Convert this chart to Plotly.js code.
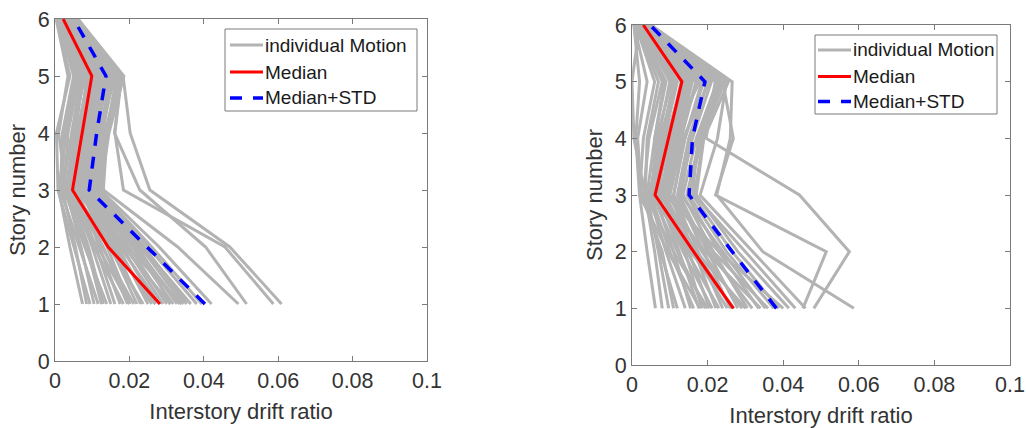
<!DOCTYPE html>
<html>
<head>
<meta charset="utf-8">
<script src="https://cdn.plot.ly/plotly-3.0.1.min.js"></script>
<style>html,body{margin:0;padding:0;background:#fff;}#chart{width:1026px;height:428px;}</style>
</head>
<body>
<div id="chart"></div>
<script>
// Story levels
const stories = [1, 2, 3, 4, 5, 6];

// Left panel: individual motions (drift ratio at stories 1..6)
const leftMotions = [
  [0.0074, 0.0040, 0.0010, 0.0030, 0.0060, 0.0010],
  [0.0085, 0.0055, 0.0020, 0.0045, 0.0070, 0.0015],
  [0.0094, 0.0050, 0.0008, 0.0004, 0.0040, 0.0005],
  [0.0105, 0.0070, 0.0030, 0.0050, 0.0080, 0.0020],
  [0.0116, 0.0065, 0.0015, 0.0020, 0.0050, 0.0008],
  [0.0130, 0.0090, 0.0040, 0.0060, 0.0090, 0.0025],
  [0.0139, 0.0080, 0.0025, 0.0035, 0.0065, 0.0012],
  [0.0150, 0.0100, 0.0045, 0.0075, 0.0100, 0.0030],
  [0.0161, 0.0110, 0.0050, 0.0055, 0.0075, 0.0018],
  [0.0175, 0.0120, 0.0060, 0.0085, 0.0110, 0.0035],
  [0.0184, 0.0105, 0.0035, 0.0065, 0.0095, 0.0022],
  [0.0195, 0.0130, 0.0055, 0.0070, 0.0085, 0.0020],
  [0.0202, 0.0140, 0.0070, 0.0095, 0.0120, 0.0040],
  [0.0212, 0.0125, 0.0040, 0.0050, 0.0070, 0.0015],
  [0.0220, 0.0150, 0.0065, 0.0080, 0.0105, 0.0028],
  [0.0230, 0.0160, 0.0075, 0.0100, 0.0125, 0.0045],
  [0.0237, 0.0145, 0.0050, 0.0060, 0.0090, 0.0025],
  [0.0250, 0.0170, 0.0080, 0.0105, 0.0130, 0.0050],
  [0.0260, 0.0165, 0.0060, 0.0075, 0.0100, 0.0030],
  [0.0270, 0.0180, 0.0085, 0.0110, 0.0140, 0.0055],
  [0.0282, 0.0175, 0.0070, 0.0090, 0.0115, 0.0038],
  [0.0290, 0.0190, 0.0090, 0.0120, 0.0150, 0.0058],
  [0.0300, 0.0200, 0.0095, 0.0115, 0.0135, 0.0045],
  [0.0310, 0.0185, 0.0075, 0.0100, 0.0120, 0.0040],
  [0.0318, 0.0210, 0.0100, 0.0125, 0.0160, 0.0060],
  [0.0328, 0.0220, 0.0105, 0.0130, 0.0150, 0.0050],
  [0.0336, 0.0215, 0.0090, 0.0110, 0.0145, 0.0048],
  [0.0345, 0.0230, 0.0110, 0.0135, 0.0170, 0.0062],
  [0.0354, 0.0240, 0.0115, 0.0140, 0.0165, 0.0055],
  [0.0365, 0.0235, 0.0105, 0.0120, 0.0155, 0.0050],
  [0.0381, 0.0250, 0.0120, 0.0140, 0.0175, 0.0060],
  [0.0395, 0.0260, 0.0118, 0.0138, 0.0180, 0.0058],
  [0.0421, 0.0280, 0.0122, 0.0145, 0.0185, 0.0062],
  [0.0493, 0.0330, 0.0130, 0.0140, 0.0170, 0.0055],
  [0.0515, 0.0405, 0.0228, 0.0160, 0.0178, 0.0050],
  [0.0587, 0.0457, 0.0184, 0.0161, 0.0179, 0.0045],
  [0.0609, 0.0470, 0.0255, 0.0202, 0.0183, 0.0060],
  [0.0125, 0.0085, 0.0030, 0.0010, 0.0035, 0.0003],
  [0.0200, 0.0115, 0.0020, 0.0025, 0.0055, 0.0010],
  [0.0270, 0.0155, 0.0045, 0.0045, 0.0080, 0.0018],
  [0.0340, 0.0195, 0.0065, 0.0085, 0.0110, 0.0035],
  [0.0310, 0.0225, 0.0115, 0.0125, 0.0155, 0.0052]
];
const leftMedian = [0.0282, 0.0143, 0.0047, 0.0072, 0.0099, 0.0022];
const leftMedianStd = [0.0403, 0.0246, 0.0092, 0.0112, 0.0137, 0.0050];

// Right panel: individual motions
const rightMotions = [
  [0.0062, 0.0040, 0.0020, 0.0030, 0.0060, 0.0010],
  [0.0080, 0.0060, 0.0035, 0.0005, 0.0000, 0.0020],
  [0.0097, 0.0070, 0.0040, 0.0060, 0.0090, 0.0015],
  [0.0120, 0.0075, 0.0030, 0.0045, 0.0080, 0.0008],
  [0.0141, 0.0090, 0.0045, 0.0080, 0.0110, 0.0025],
  [0.0155, 0.0110, 0.0060, 0.0070, 0.0100, 0.0020],
  [0.0163, 0.0100, 0.0050, 0.0095, 0.0130, 0.0030],
  [0.0177, 0.0125, 0.0070, 0.0060, 0.0085, 0.0012],
  [0.0185, 0.0140, 0.0080, 0.0110, 0.0150, 0.0035],
  [0.0194, 0.0120, 0.0055, 0.0085, 0.0120, 0.0028],
  [0.0205, 0.0150, 0.0090, 0.0120, 0.0160, 0.0040],
  [0.0212, 0.0135, 0.0065, 0.0100, 0.0140, 0.0032],
  [0.0222, 0.0165, 0.0100, 0.0130, 0.0170, 0.0045],
  [0.0230, 0.0145, 0.0060, 0.0075, 0.0115, 0.0022],
  [0.0240, 0.0175, 0.0110, 0.0140, 0.0185, 0.0048],
  [0.0252, 0.0160, 0.0075, 0.0105, 0.0145, 0.0030],
  [0.0260, 0.0190, 0.0120, 0.0150, 0.0200, 0.0050],
  [0.0265, 0.0170, 0.0085, 0.0115, 0.0155, 0.0038],
  [0.0280, 0.0200, 0.0125, 0.0160, 0.0210, 0.0045],
  [0.0291, 0.0185, 0.0095, 0.0125, 0.0170, 0.0040],
  [0.0305, 0.0215, 0.0135, 0.0170, 0.0225, 0.0050],
  [0.0318, 0.0205, 0.0110, 0.0140, 0.0190, 0.0042],
  [0.0335, 0.0230, 0.0145, 0.0180, 0.0235, 0.0048],
  [0.0353, 0.0240, 0.0130, 0.0155, 0.0200, 0.0045],
  [0.0375, 0.0250, 0.0150, 0.0185, 0.0245, 0.0050],
  [0.0388, 0.0265, 0.0160, 0.0175, 0.0230, 0.0040],
  [0.0415, 0.0280, 0.0170, 0.0190, 0.0255, 0.0050],
  [0.0432, 0.0300, 0.0165, 0.0189, 0.0240, 0.0045],
  [0.0459, 0.0320, 0.0180, 0.0226, 0.0250, 0.0048],
  [0.0481, 0.0575, 0.0443, 0.0196, 0.0220, 0.0045],
  [0.0452, 0.0514, 0.0221, 0.0268, 0.0240, 0.0050],
  [0.0587, 0.0346, 0.0224, 0.0260, 0.0265, 0.0050],
  [0.0110, 0.0080, 0.0025, 0.0015, 0.0040, 0.0005],
  [0.0200, 0.0110, 0.0035, 0.0040, 0.0070, 0.0010],
  [0.0270, 0.0155, 0.0050, 0.0065, 0.0105, 0.0020],
  [0.0340, 0.0195, 0.0070, 0.0090, 0.0135, 0.0030],
  [0.0400, 0.0230, 0.0090, 0.0120, 0.0175, 0.0040],
  [0.0180, 0.0095, 0.0020, 0.0010, 0.0020, 0.0005],
  [0.0300, 0.0170, 0.0060, 0.0100, 0.0180, 0.0035],
  [0.0360, 0.0215, 0.0100, 0.0135, 0.0205, 0.0045]
];
const rightMedian = [0.0268, 0.0163, 0.0061, 0.0097, 0.0132, 0.0030];
const rightMedianStd = [0.0382, 0.0265, 0.0151, 0.0160, 0.0193, 0.0048];

const legendNames = ['individual Motion', 'Median', 'Median+STD'];
const xTicks = [0, 0.02, 0.04, 0.06, 0.08, 0.1];
const yTicks = [0, 1, 2, 3, 4, 5, 6];

const GRAY = '#b3b3b3', RED = '#ff0000', BLUE = '#0000ff';
const COLORS = [GRAY, RED, BLUE];
const DASHES = ['solid', 'solid', '12px,11px'];
const FONT = 'Liberation Sans, Arial, sans-serif';

function panel(motions, med, medStd, xa, ya) {
  const tr = [];
  motions.forEach((m) => {
    tr.push({
      x: m, y: stories, xaxis: xa, yaxis: ya, type: 'scatter', mode: 'lines',
      line: {color: GRAY, width: 3}, name: legendNames[0], showlegend: false, hoverinfo: 'skip'
    });
  });
  tr.push({x: med, y: stories, xaxis: xa, yaxis: ya, type: 'scatter', mode: 'lines',
    line: {color: RED, width: 3}, name: legendNames[1], showlegend: false});
  tr.push({x: medStd, y: stories, xaxis: xa, yaxis: ya, type: 'scatter', mode: 'lines',
    line: {color: BLUE, width: 3.5, dash: DASHES[2]}, name: legendNames[2], showlegend: false});
  return tr;
}

const data = [].concat(
  panel(leftMotions, leftMedian, leftMedianStd, 'x', 'y'),
  panel(rightMotions, rightMedian, rightMedianStd, 'x2', 'y2')
);

const W = 1026, H = 428;
const px = v => v / W, py = v => 1 - v / H;

function xaxisCfg(l, r, anchor) {
  return {
    domain: [l / W, r / W], anchor: anchor, range: [0, 0.1], tickvals: xTicks,
    ticktext: xTicks.map(String),
    showline: true, linecolor: '#7a7a7a', linewidth: 1, mirror: 'ticks',
    ticks: 'inside', ticklen: 5, tickcolor: '#7a7a7a', showgrid: false, zeroline: false,
    tickfont: {family: FONT, size: 21.5, color: '#333'},
    title: {text: 'Interstory drift ratio', font: {family: FONT, size: 22, color: '#333'}, standoff: 11}
  };
}
function yaxisCfg(top, bot, anchor) {
  return {
    domain: [1 - bot / H, 1 - top / H], anchor: anchor, range: [0, 6], tickvals: yTicks,
    showline: true, linecolor: '#7a7a7a', linewidth: 1, mirror: 'ticks',
    ticks: 'inside', ticklen: 5, tickcolor: '#7a7a7a', showgrid: false, zeroline: false,
    tickfont: {family: FONT, size: 21.5, color: '#333'},
    title: {text: 'Story number', font: {family: FONT, size: 22, color: '#333'}, standoff: 6}
  };
}

// Legend boxes drawn as shapes + text annotations (MATLAB-style legend)
const shapes = [], annotations = [];
function legendBox(x0, x1, y0, y1, rows, sx0, sx1, tx) {
  shapes.push({type: 'rect', xref: 'paper', yref: 'paper', x0: px(x0), x1: px(x1), y0: py(y0), y1: py(y1),
    line: {color: '#7a7a7a', width: 1}, fillcolor: '#ffffff', layer: 'above'});
  legendNames.forEach((nm, i) => {
    shapes.push({type: 'line', xref: 'paper', yref: 'paper', x0: px(sx0), x1: px(sx1), y0: py(rows[i]), y1: py(rows[i]),
      line: {color: COLORS[i], width: i === 2 ? 3.5 : 3, dash: DASHES[i]}, layer: 'above'});
    annotations.push({xref: 'paper', yref: 'paper', x: px(tx), y: py(rows[i]), xanchor: 'left', yanchor: 'middle',
      text: nm, showarrow: false, font: {family: FONT, size: 19, color: '#1a1a1a'}});
  });
}
legendBox(225, 417, 29, 111, [45, 72, 98], 230, 263, 263);
legendBox(815, 997, 35, 114, [50, 76.5, 101.5], 818, 851, 851);

const layout = {
  width: W, height: H,
  margin: {l: 0, r: 0, t: 0, b: 0},
  paper_bgcolor: '#fff', plot_bgcolor: '#fff',
  showlegend: false,
  xaxis: xaxisCfg(55, 427, 'y'),
  yaxis: yaxisCfg(19, 361, 'x'),
  xaxis2: xaxisCfg(632, 1010, 'y2'),
  yaxis2: yaxisCfg(25, 365, 'x2'),
  shapes: shapes,
  annotations: annotations,
  font: {family: FONT}
};

Plotly.newPlot('chart', data, layout, {staticPlot: true, displayModeBar: false});
</script>
</body>
</html>
